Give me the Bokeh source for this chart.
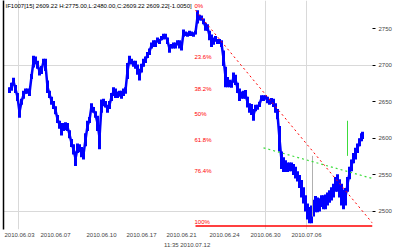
from bokeh.plotting import figure
from bokeh.models import Range1d, FixedTicker, LinearAxis, Label
from bokeh.core.properties import value
from bokeh.embed import file_html
from bokeh.resources import INLINE

# bar position (chart column) and high/low prices
bars = [9, 11, 13, 15, 17, 19, 21, 23, 25, 27, 29, 31, 33, 35, 37, 39, 41, 43, 45, 47,
        49, 51, 53, 55, 57, 59, 61, 63, 65, 67, 69, 71, 73, 75, 77, 79, 81, 83, 85, 87,
        89, 91, 93, 95, 97, 99, 101, 103, 105, 107, 109, 111, 113, 115, 117, 119, 121, 123, 125, 127,
        129, 131, 133, 135, 137, 139, 141, 143, 145, 147, 149, 151, 153, 155, 157, 159, 161, 163, 165, 167,
        169, 171, 173, 175, 177, 179, 181, 183, 185, 187, 189, 191, 193, 195, 197, 199, 201, 203, 205, 207,
        209, 211, 213, 215, 217, 219, 221, 223, 225, 227, 229, 231, 233, 235, 237, 239, 241, 243, 245, 247,
        249, 251, 253, 255, 257, 259, 261, 263, 265, 267, 269, 271, 273, 275, 277, 279, 281, 283, 285, 287,
        289, 291, 293, 295, 297, 299, 301, 303, 305, 307, 309, 311, 313, 315, 317, 319, 321, 323, 325, 327,
        329, 331, 333, 335, 337, 339, 341, 343, 345, 347, 349, 351, 353, 355, 357, 359, 361, 362]
high = [2670, 2676, 2683, 2673, 2662, 2644, 2654, 2665, 2668, 2668, 2666, 2688, 2713, 2712, 2706, 2697, 2699, 2709, 2709, 2679,
        2665, 2657, 2651, 2644, 2632, 2624, 2621, 2621, 2622, 2621, 2611, 2599, 2592, 2582, 2593, 2592, 2588, 2585, 2607, 2624,
        2629, 2648, 2643, 2637, 2631, 2617, 2653, 2654, 2651, 2646, 2651, 2662, 2670, 2668, 2664, 2665, 2665, 2668, 2670, 2703,
        2713, 2709, 2706, 2706, 2701, 2695, 2702, 2709, 2712, 2718, 2723, 2731, 2734, 2734, 2738, 2736, 2740, 2743, 2743, 2738,
        2728, 2729, 2731, 2731, 2734, 2734, 2727, 2749, 2746, 2745, 2747, 2746, 2745, 2747, 2775, 2769, 2768, 2764, 2758, 2756,
        2747, 2742, 2738, 2740, 2736, 2736, 2734, 2720, 2698, 2684, 2680, 2679, 2690, 2687, 2676, 2668, 2664, 2665, 2666, 2657,
        2648, 2647, 2640, 2646, 2646, 2650, 2659, 2659, 2659, 2657, 2654, 2655, 2654, 2648, 2640, 2617, 2582, 2574, 2570, 2567,
        2567, 2567, 2565, 2561, 2555, 2550, 2543, 2533, 2522, 2511, 2506, 2508, 2516, 2521, 2519, 2518, 2522, 2522, 2523, 2526,
        2529, 2533, 2538, 2547, 2551, 2544, 2538, 2530, 2532, 2547, 2561, 2571, 2580, 2587, 2593, 2600, 2607, 2609]
low = [2662, 2665, 2673, 2662, 2651, 2628, 2646, 2654, 2661, 2661, 2658, 2681, 2697, 2701, 2695, 2686, 2688, 2701, 2692, 2662,
       2655, 2646, 2640, 2633, 2621, 2613, 2604, 2610, 2611, 2610, 2600, 2588, 2578, 2562, 2580, 2581, 2574, 2571, 2589, 2610,
       2621, 2640, 2635, 2628, 2610, 2585, 2635, 2644, 2642, 2635, 2640, 2651, 2658, 2655, 2655, 2657, 2654, 2658, 2661, 2681,
       2703, 2701, 2698, 2695, 2687, 2679, 2690, 2698, 2703, 2710, 2714, 2723, 2725, 2725, 2731, 2729, 2734, 2735, 2736, 2729,
       2717, 2723, 2723, 2723, 2727, 2723, 2720, 2739, 2740, 2739, 2740, 2740, 2739, 2742, 2757, 2761, 2761, 2756, 2747, 2747,
       2734, 2725, 2728, 2732, 2729, 2729, 2725, 2699, 2670, 2670, 2670, 2669, 2676, 2673, 2662, 2651, 2654, 2654, 2654, 2642,
       2635, 2632, 2624, 2637, 2639, 2643, 2651, 2651, 2653, 2648, 2646, 2647, 2643, 2635, 2626, 2582, 2558, 2554, 2554, 2554,
       2555, 2555, 2550, 2545, 2541, 2532, 2519, 2511, 2500, 2489, 2484, 2484, 2493, 2499, 2499, 2500, 2506, 2503, 2503, 2508,
       2512, 2515, 2519, 2527, 2527, 2519, 2508, 2503, 2508, 2527, 2544, 2555, 2566, 2571, 2580, 2589, 2596, 2599]
mid = [(h + l) / 2 for h, l in zip(high, low)]

# Fibonacci retracement between swing high and swing low
swing_high = 2775
swing_low = 2480
fib_ratios = [0.0, 0.236, 0.382, 0.5, 0.618, 0.764, 1.0]
fib_labels = ["0%", "23.6%", "38.2%", "50%", "61.8%", "76.4%", "100%"]
fib_start = 194
fib_end = 372

# trend lines
red_trend_x = [195, 372]
red_trend_y = [2775, 2484]
green_trend_x = [263, 372]
green_trend_y = [2587, 2545]

# markers (vertical lines)
gray_mark_x = 312
gray_mark_y = [2576, 2493]
green_mark_x = 347
green_mark_y = [2624, 2576]

y_ticks = [2500, 2550, 2600, 2650, 2700, 2750]
y_grid = [2500, 2700]
x_tick_pos = [19, 55, 101, 141, 181, 224, 265, 306]
x_tick_labels = ["2010.06.03", "2010.06.07", "2010.06.10", "2010.06.17",
                 "2010.06.21", "2010.06.24", "2010.06.30", "2010.07.06"]
x_grid = [18, 265, 306]

title_text = "IF1007[15]  2609.22  H:2775.00,L:2480.00,C:2609.22  2609.22[-1.0050]"
time_text = "11:35  2010.07.12"

FONT = "Liberation Sans"
BLUE = "#0000ff"
RED = "#ff0000"
GREEN = "#3cdc3c"
GRID = "#d9d9d9"

p = figure(width=400, height=250, output_backend="svg", toolbar_location=None,
           x_range=Range1d(3, 372), y_range=Range1d(2475.3, 2788.5),
           min_border_left=3, min_border_right=28, min_border_top=0, min_border_bottom=20,
           y_axis_location="left")
p.outline_line_color = None
p.background_fill_color = "white"
p.border_fill_color = "white"

# left axis: only a black line
ly = p.yaxis[0]
ly.axis_line_color = "black"
ly.axis_line_width = 1.5
ly.major_tick_line_color = None
ly.minor_tick_line_color = None
ly.major_tick_out = 0
ly.major_tick_in = 0
ly.minor_tick_out = 0
ly.major_label_text_font_size = "0px"
ly.major_label_standoff = 0
ly.ticker = FixedTicker(ticks=[])

# right axis with price labels
ry = LinearAxis(ticker=FixedTicker(ticks=y_ticks))
ry.axis_line_color = None
ry.major_tick_in = 0
ry.major_tick_out = 3
ry.minor_tick_out = 0
ry.major_tick_line_color = "black"
ry.minor_tick_line_color = None
ry.major_label_text_font = FONT
ry.major_label_text_font_size = "6px"
ry.major_label_standoff = 3
p.add_layout(ry, "right")

xa = p.xaxis[0]
xa.ticker = FixedTicker(ticks=x_tick_pos)
xa.major_label_overrides = {pos: lab for pos, lab in zip(x_tick_pos, x_tick_labels)}
xa.axis_line_color = None
xa.major_tick_line_color = None
xa.minor_tick_line_color = None
xa.major_tick_out = 0
xa.major_tick_in = 0
xa.minor_tick_out = 0
xa.major_label_text_font = FONT
xa.major_label_text_font_size = "6px"
xa.major_label_standoff = 3
xa.axis_label = time_text
xa.axis_label_text_font = FONT
xa.axis_label_text_font_size = "6px"
xa.axis_label_text_font_style = "normal"
xa.axis_label_standoff = 2

p.xgrid.ticker = FixedTicker(ticks=x_grid)
p.ygrid.ticker = FixedTicker(ticks=y_grid)
p.xgrid.grid_line_color = GRID
p.ygrid.grid_line_color = GRID

# price bars
p.segment(x0=bars, y0=low, x1=bars, y1=high, line_color=BLUE, line_width=3)
p.line(bars, mid, line_color=BLUE, line_width=2.5)

# marker lines
p.segment(x0=[gray_mark_x], y0=[gray_mark_y[0]], x1=[gray_mark_x], y1=[gray_mark_y[1]],
          line_color="#b0b0b0", line_width=1)
p.segment(x0=[green_mark_x], y0=[green_mark_y[0]], x1=[green_mark_x], y1=[green_mark_y[1]],
          line_color=GREEN, line_width=1)

# trend lines
p.line(red_trend_x, red_trend_y, line_color=RED, line_width=1, line_dash="2 3")
p.line(green_trend_x, green_trend_y, line_color=GREEN, line_width=1.2, line_dash="2 3")

# fibonacci levels
fib_levels = [swing_high - r * (swing_high - swing_low) for r in fib_ratios]
p.segment(x0=[fib_start + 1], y0=[fib_levels[-1]], x1=[fib_end], y1=[fib_levels[-1]],
          line_color=RED, line_width=1.5)
p.text(x=[fib_start] * len(fib_levels), y=fib_levels, text=fib_labels,
       text_color=RED, text_font=value(FONT), text_font_size=value("6px"),
       text_baseline="bottom", text_align="left", y_offset=-1)

# header text
p.add_layout(Label(x=5, y=2781, text=title_text, text_font=FONT, text_font_size="6px",
                   text_color="black", text_baseline="middle"))

open("out.html", "w").write(file_html(p, INLINE))
